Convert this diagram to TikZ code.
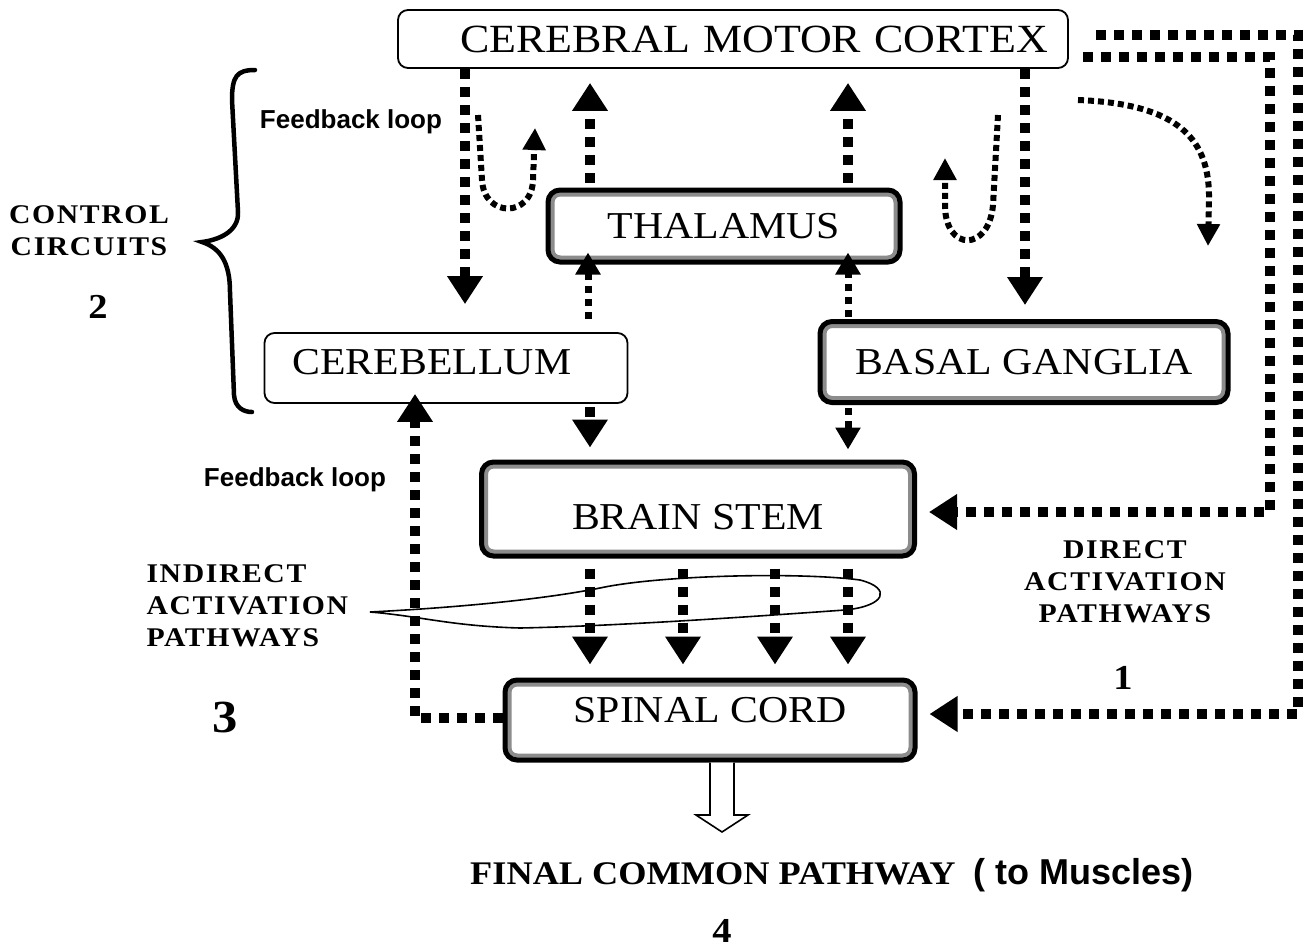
\documentclass[tikz,border=0pt]{standalone}
\usepackage{fontspec}
\setmainfont{Liberation Serif}
\newfontfamily\boxfont[FakeStretch=1.1]{Liberation Serif}
\newfontfamily\sidefont[FakeStretch=1.1,LetterSpace=6]{Liberation Serif}
\newfontfamily\labelfont{Liberation Sans}
\usetikzlibrary{arrows.meta}

\newcommand\boxtext{\boxfont\fontsize{38}{44}\selectfont}
\newcommand\sidetext{\sidefont\bfseries\fontsize{27}{32}\selectfont}
\newcommand\numtext{\boxfont\bfseries\fontsize{35}{40}\selectfont}

\tikzset{
  thinbox/.style={draw, line width=1.8pt, rounded corners=10pt, fill=white, font=\boxtext},
  thickbox/.style={thinbox, line width=5pt, rounded corners=12pt,
    path picture={\draw[black!45, line width=13pt] (path picture bounding box.south west) rectangle (path picture bounding box.north east);}},
  dotline/.style={line width=10pt, dash pattern=on 10pt off 8pt},
  dotarrow/.style={dotline, -{Triangle[width=34pt,length=28pt]}},
  smallarrow/.style={line width=7pt, dash pattern=on 7pt off 6pt, -{Triangle[width=24pt,length=22pt]}},
  looparrow/.style={line width=6pt, dash pattern=on 6pt off 4pt, -{Triangle[width=22pt,length=22pt]}},
  fbtext/.style={font=\labelfont\bfseries\fontsize{26}{30}\selectfont}
}

\begin{document}
\begin{tikzpicture}[x=1pt, y=-1pt]
  \useasboundingbox (0,0) rectangle (1315,951);

  % boxes
  \node[thinbox, font=\boxfont\fontsize{40}{44}\selectfont, text width=630pt, inner xsep=20pt, align=right, minimum height=58pt] (cortex) at (733,39) {CEREBRAL MOTOR CORTEX};
  \node[thickbox, minimum width=352pt, minimum height=72pt] (thalamus) at (724,226) {THALAMUS};
  \node[thinbox, text width=307pt, inner xsep=28pt, align=left, minimum height=70pt, text height=26pt, text depth=14pt] (cerebellum) at (446,368) {CEREBELLUM};
  \node[thickbox, minimum width=408pt, minimum height=81pt] (basal) at (1024,362) {BASAL GANGLIA};
  \node[thickbox, minimum width=433pt, minimum height=94pt, text height=40pt, text depth=0pt] (brainstem) at (698,509) {BRAIN STEM};
  \node[thickbox, minimum width=410pt, minimum height=80pt, text height=26pt, text depth=22pt] (spinal) at (710,720) {SPINAL CORD};

  % side labels
  \node[fbtext] (fbtop) at (351,122) {Feedback loop};
  \node[fbtext] (fbbottom) at (295,480) {Feedback loop};
  \node[font=\sidetext, align=center] (control) at (89,231) {CONTROL\\CIRCUITS};
  \node[font=\numtext] (two) at (98,307) {2};
  \node[font=\sidetext, align=left, anchor=west] (indirect) at (143,606) {INDIRECT\\ACTIVATION\\PATHWAYS};
  \node[font=\boxfont\bfseries\fontsize{46}{50}\selectfont] (three) at (225,717) {3};
  \node[font=\sidetext, align=center] (direct) at (1125,582) {DIRECT\\ACTIVATION\\PATHWAYS};
  \node[font=\numtext] (one) at (1123,678) {1};
  \node[inner sep=0pt] (final) at (832,875) {\boxfont\bfseries\fontsize{33}{36}\selectfont FINAL COMMON PATHWAY\ \ {\labelfont\fontsize{36}{38}\selectfont( to Muscles)}};
  \node[font=\numtext, inner sep=1pt] (four) at (722,931) {4};

  % brace of the control circuits
  \draw[line width=4.5pt, line cap=round]
    (255,70) .. controls (237,70) and (232,76) .. (232,100) -- (238,212)
    .. controls (239,232) and (218,240) .. (202,242)
    .. controls (220,248) and (230,262) .. (230,292) -- (234,395)
    .. controls (235,408) and (244,412) .. (252,412);

  % control circuit pathways
  \draw[dotarrow, shorten >=28pt] (cortex.south -| 465,0) -- (cerebellum.north -| 465,0);
  \draw[dotarrow, shorten <=5pt, shorten >=14pt] (thalamus.north -| 590,0) -- (cortex.south -| 590,0);
  \draw[dotarrow, shorten <=5pt, shorten >=14pt] (thalamus.north -| 848,0) -- (cortex.south -| 848,0);
  \draw[dotarrow, shorten >=14pt] (cortex.south -| 1025,0) -- (basal.north -| 1025,0);
  \draw[smallarrow, shorten <=13pt, shorten >=-12pt] (cerebellum.north -| 588,0) -- (thalamus.south -| 588,0);
  \draw[smallarrow, shorten <=2pt, shorten >=-12pt] (basal.north -| 848,0) -- (thalamus.south -| 848,0);
  \draw[dotarrow, shorten <=3pt, shorten >=12pt] (cerebellum.south -| 590,0) -- (brainstem.north -| 590,0);
  \draw[smallarrow, shorten <=3pt, shorten >=10pt] (basal.south -| 848,0) -- (brainstem.north -| 848,0);

  % feedback loops
  \draw[looparrow] (478,115) -- (482,180) .. controls (484,218) and (532,218) .. (533,180) -- (535,128);
  \draw[looparrow] (998,115) -- (993,205) .. controls (989,252) and (945,252) .. (945,205) -- (945,158);
  \draw[looparrow] (1078,100) .. controls (1180,104) and (1210,140) .. (1209,200) -- (1208,246);

  % indirect activation pathways
  \foreach \x in {590,683,775,848}
    \draw[dotarrow, shorten <=10pt, shorten >=13pt] (brainstem.south -| \x,0) -- (spinal.north -| \x,0);
  \draw[line width=1.6pt]
    (370,612) .. controls (450,608) and (540,600) .. (600,588)
    .. controls (660,575) and (800,572) .. (860,580)
    .. controls (892,588) and (886,606) .. (845,610)
    .. controls (760,616) and (620,626) .. (520,628)
    .. controls (450,626) and (420,616) .. (370,612);

  % feedback from the spinal cord
  \draw[dotarrow, shorten >=-10pt] (spinal.west |- 0,718) -| (cerebellum.south -| 415,0);

  % direct activation pathways
  \draw[dotarrow, shorten <=27pt, shorten >=12pt] (cortex.east |- 0,35) -| (1298,714) -- (spinal.east |- 0,714);
  \draw[dotarrow, shorten <=14pt, shorten >=12pt] (cortex.east |- 0,57) -| (1270,512) -- (brainstem.east |- 0,512);

  % final common pathway
  \draw[line width=1.6pt, fill=white] (spinal.south -| 710,0) -- (710,815) -- (696,815) -- (722,832)
    -- (748,815) -- (734,815) -- (spinal.south -| 734,0);
\end{tikzpicture}
\end{document}
